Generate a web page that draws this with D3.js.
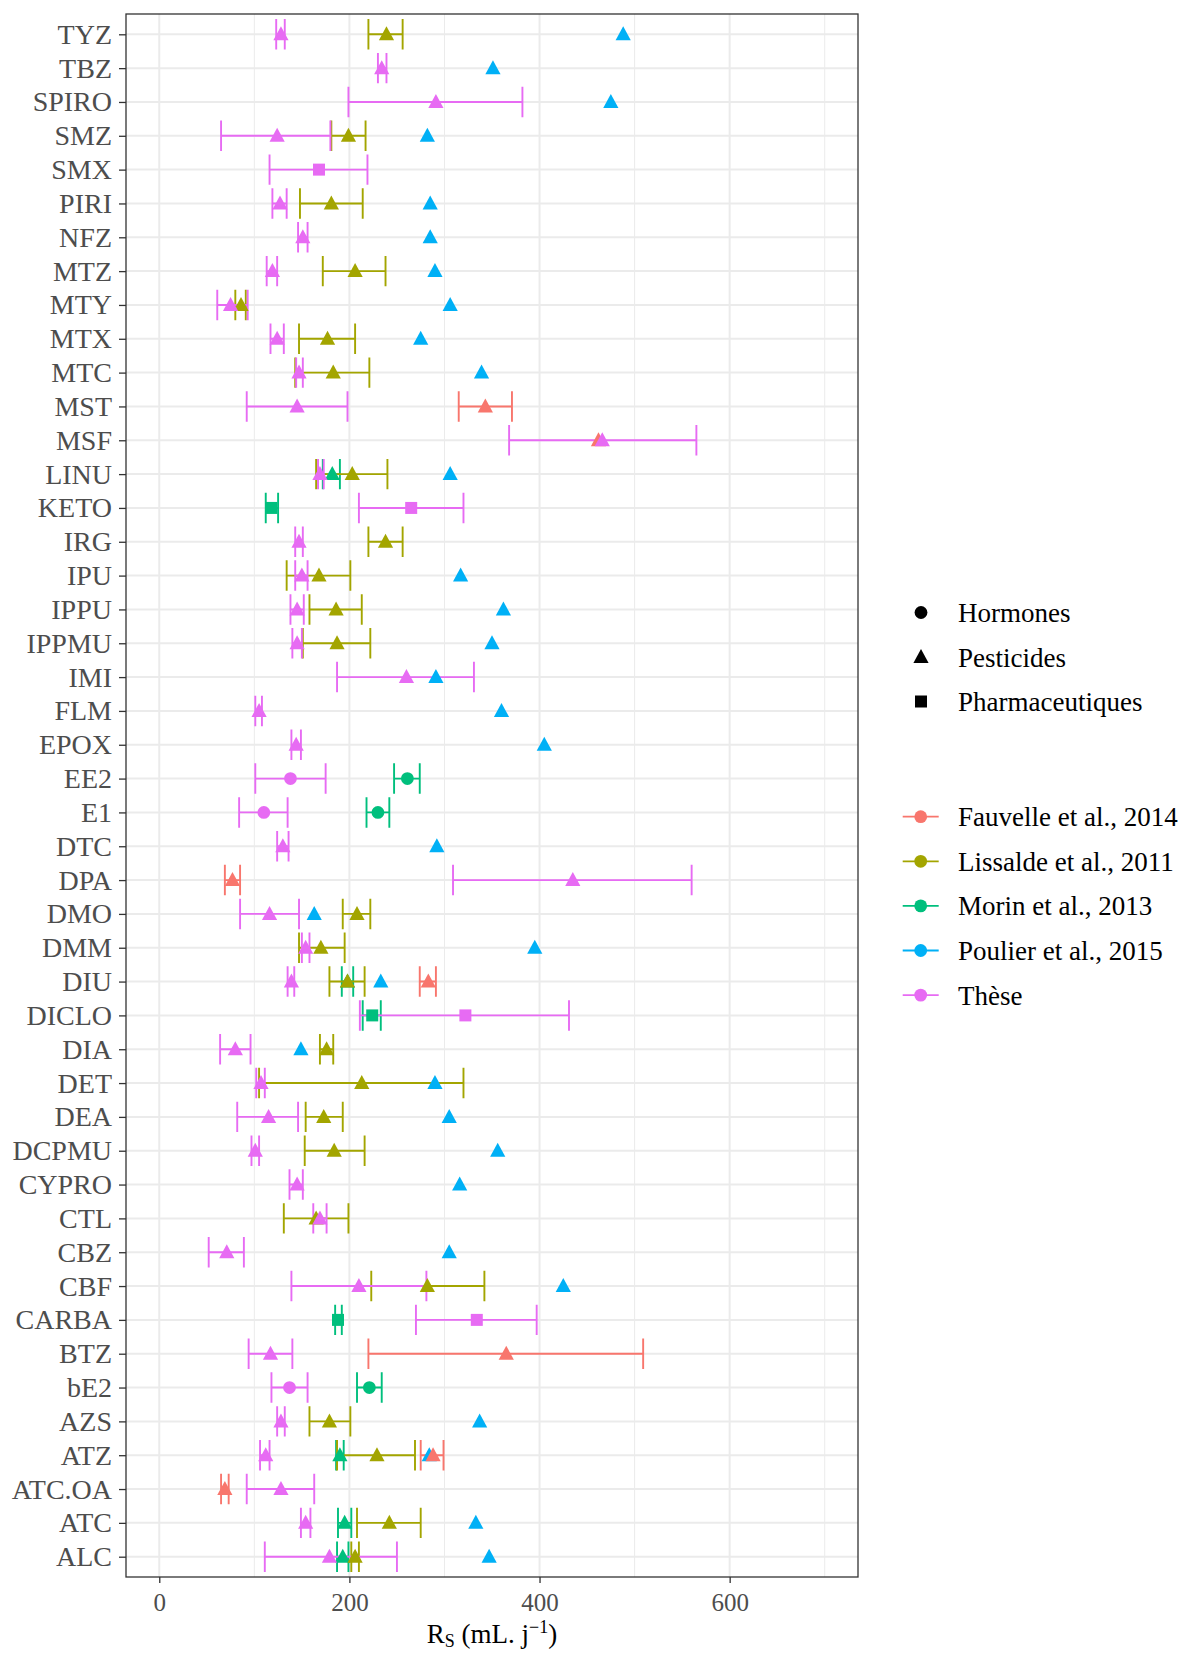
<!DOCTYPE html>
<html>
<head>
<meta charset="utf-8">
<script src="https://cdn.jsdelivr.net/npm/d3@7"></script>
<style>
  body { margin: 0; background: #fff; }
  svg { display: block; font-family: "Liberation Serif", "DejaVu Serif", serif; }
</style>
</head>
<body>
<svg id="chart" width="1180" height="1656"></svg>
<script>
// Compounds, top to bottom
const compounds = ["TYZ","TBZ","SPIRO","SMZ","SMX","PIRI","NFZ","MTZ","MTY","MTX","MTC","MST","MSF",
  "LINU","KETO","IRG","IPU","IPPU","IPPMU","IMI","FLM","EPOX","EE2","E1","DTC","DPA","DMO","DMM",
  "DIU","DICLO","DIA","DET","DEA","DCPMU","CYPRO","CTL","CBZ","CBF","CARBA","BTZ","bE2","AZS",
  "ATZ","ATC.OA","ATC","ALC"];

// Compound families (everything else is a pesticide)
const hormones = ["EE2","E1","bE2"];
const pharmaceuticals = ["SMX","KETO","DICLO","CARBA"];
const familyLabels = ["Hormones","Pesticides","Pharmaceutiques"];

const studies = ["Fauvelle et al., 2014","Lissalde et al., 2011","Morin et al., 2013","Poulier et al., 2015","Thèse"];
const studyColors = ["#F8766D","#A3A500","#00BF7D","#00B0F6","#E76BF3"];

const xTicks = [0, 200, 400, 600];
const xMinor = [100, 300, 500, 700];

// Sampling rates Rs (mL/j): [compound, value, lower, upper]
const fauvelle = [
  ["MST",343,315,371],["MSF",462,null,null],["DPA",77,69,85],["DIU",283,274,291],
  ["BTZ",365,220,509],["ATZ",288,275,299],["ATC.OA",69,65,73]
];
const lissalde = [
  ["TYZ",239,220,256],["SMZ",199,181,217],["PIRI",181,148,214],["MTZ",206,172,238],
  ["MTY",86,80,91],["MTX",177,147,206],["MTC",183,143,221],["LINU",203,165,240],
  ["IRG",238,220,256],["IPU",168,134,201],["IPPU",186,158,213],["IPPMU",187,151,222],
  ["DMO",208,193,222],["DMM",170,147,195],["DIU",198,179,216],["DIA",176,169,183],
  ["DET",213,105,320],["DEA",173,154,193],["DCPMU",184,153,216],["CTL",165,131,199],
  ["CBF",282,223,342],["AZS",179,158,201],["ATZ",229,187,269],["ATC",242,208,275],
  ["ALC",206,202,210]
];
const morin = [
  ["LINU",182,172,190],["KETO",118,112,125],["EE2",261,247,274],["E1",230,218,242],
  ["DIU",198,192,204],["DICLO",224,214,233],["CARBA",188,185,192],["bE2",221,208,234],
  ["ATZ",190,186,194],["ATC",195,188,202],["ALC",193,187,199]
];
const poulier = [
  ["TYZ",488],["TBZ",351],["SPIRO",475],["SMZ",282],["PIRI",285],["NFZ",285],["MTZ",290],
  ["MTY",306],["MTX",275],["MTC",339],["LINU",306],["IPU",317],["IPPU",362],["IPPMU",350],
  ["IMI",291],["FLM",360],["EPOX",405],["DTC",292],["DMO",163],["DMM",395],["DIU",233],
  ["DIA",149],["DET",290],["DEA",305],["DCPMU",356],["CYPRO",316],["CBZ",305],["CBF",425],
  ["AZS",337],["ATZ",284],["ATC",333],["ALC",347]
];
const these = [
  ["TYZ",128,123,132],["TBZ",234,230,239],["SPIRO",291,199,382],["SMZ",124,65,180],
  ["SMX",168,116,219],["PIRI",127,119,134],["NFZ",151,146,156],["MTZ",119,113,124],
  ["MTY",75,61,93],["MTX",124,117,131],["MTC",147,144,151],["MST",145,92,198],
  ["MSF",466,368,565],["LINU",169,167,173],["KETO",265,210,320],["IRG",147,143,151],
  ["IPU",150,143,156],["IPPU",145,138,152],["IPPMU",145,140,150],["IMI",260,187,331],
  ["FLM",105,101,108],["EPOX",144,139,149],["EE2",138,101,175],["E1",110,84,135],
  ["DTC",130,124,136],["DPA",435,309,560],["DMO",116,85,147],["DMM",154,150,158],
  ["DIU",139,135,142],["DICLO",322,211,431],["DIA",80,64,96],["DET",107,102,111],
  ["DEA",115,82,146],["DCPMU",101,97,105],["CYPRO",145,137,151],["CTL",169,162,176],
  ["CBZ",71,52,89],["CBF",210,139,281],["CARBA",334,270,397],["BTZ",117,94,140],
  ["bE2",137,118,156],["AZS",128,124,132],["ATZ",112,106,116],["ATC.OA",128,92,163],
  ["ATC",154,149,159],["ALC",179,111,250]
];

// Layering order of the series (later ones on top)
const drawOrder = [
  { study: 3, rows: poulier },
  { study: 2, rows: morin },
  { study: 1, rows: lissalde },
  { study: 0, rows: fauvelle },
  { study: 4, rows: these }
];

const svg = d3.select("#chart");
const panel = { left: 126, right: 858, top: 14, bottom: 1577 };

const x = d3.scaleLinear().domain([-35, 735]).range([panel.left, panel.right]);
const y = d3.scalePoint().domain(compounds).range([panel.top, panel.bottom]).padding(0.6);
const capHalf = y.step() * 0.45;

const familyOf = c => hormones.includes(c) ? 0 : pharmaceuticals.includes(c) ? 2 : 1;

function symbolPath(family) {
  if (family === 0) return d3.symbol(d3.symbolCircle, Math.PI * 6.4 * 6.4)();
  if (family === 2) return "M-6,-6H6V6H-6Z";
  return "M0,-8L7.6,6L-7.6,6Z";
}

// Panel background and grid
svg.append("rect").attr("x", panel.left).attr("y", panel.top)
  .attr("width", panel.right - panel.left).attr("height", panel.bottom - panel.top)
  .attr("fill", "#fff");

const grid = svg.append("g");
grid.selectAll("line.minor").data(xMinor).join("line")
  .attr("x1", d => x(d)).attr("x2", d => x(d))
  .attr("y1", panel.top).attr("y2", panel.bottom)
  .attr("stroke", "#EBEBEB").attr("stroke-width", 1);
grid.selectAll("line.majx").data(xTicks).join("line")
  .attr("x1", d => x(d)).attr("x2", d => x(d))
  .attr("y1", panel.top).attr("y2", panel.bottom)
  .attr("stroke", "#EBEBEB").attr("stroke-width", 2);
grid.selectAll("line.majy").data(compounds).join("line")
  .attr("x1", panel.left).attr("x2", panel.right)
  .attr("y1", d => y(d)).attr("y2", d => y(d))
  .attr("stroke", "#EBEBEB").attr("stroke-width", 2);

// Error bars
const bars = svg.append("g").attr("fill", "none").attr("stroke-width", 1.9);
drawOrder.forEach(s => {
  const rows = s.rows.filter(r => r[2] != null && r[3] != null);
  const g = bars.append("g").attr("stroke", studyColors[s.study]);
  g.selectAll("path").data(rows).join("path")
    .attr("d", r => {
      const cy = y(r[0]), x0 = x(r[2]), x1 = x(r[3]);
      return `M${x0},${cy - capHalf}V${cy + capHalf}M${x0},${cy}H${x1}M${x1},${cy - capHalf}V${cy + capHalf}`;
    });
});

// Points
const pts = svg.append("g");
drawOrder.forEach(s => {
  pts.append("g").attr("fill", studyColors[s.study])
    .selectAll("path").data(s.rows).join("path")
    .attr("transform", r => `translate(${x(r[1])},${y(r[0])})`)
    .attr("d", r => symbolPath(familyOf(r[0])));
});

// Panel border
svg.append("rect").attr("x", panel.left).attr("y", panel.top)
  .attr("width", panel.right - panel.left).attr("height", panel.bottom - panel.top)
  .attr("fill", "none").attr("stroke", "#333333").attr("stroke-width", 1.3);

// Axes
const xAxis = svg.append("g").attr("transform", `translate(0,${panel.bottom})`)
  .call(d3.axisBottom(x).tickValues(xTicks).tickSize(6).tickPadding(10));
xAxis.select(".domain").remove();
xAxis.selectAll(".tick line").attr("stroke", "#333333").attr("stroke-width", 1.3);
xAxis.selectAll(".tick text").attr("fill", "#4D4D4D")
  .style("font-family", '"Liberation Serif", serif').style("font-size", "25px");

const yAxis = svg.append("g").attr("transform", `translate(${panel.left},0)`)
  .call(d3.axisLeft(y).tickSize(7).tickPadding(7));
yAxis.select(".domain").remove();
yAxis.selectAll(".tick line").attr("stroke", "#333333").attr("stroke-width", 1.3);
yAxis.selectAll(".tick text").attr("fill", "#4D4D4D")
  .style("font-family", '"Liberation Serif", serif').style("font-size", "28px");

// Axis title: R_S (mL. j^-1)
const title = svg.append("text")
  .attr("x", (panel.left + panel.right) / 2).attr("y", 1643)
  .attr("text-anchor", "middle").attr("fill", "#000")
  .style("font-size", "27px");
title.append("tspan").text("R");
title.append("tspan").attr("dy", 4).style("font-size", "18px").text("S");
title.append("tspan").attr("dy", -4).text(" (mL. j");
title.append("tspan").attr("dy", -10).style("font-size", "18px").text("−1");
title.append("tspan").attr("dy", 10).text(")");

// Legend: compound family shapes
const legShape = svg.append("g");
familyLabels.forEach((lab, i) => {
  const cy = 612.5 + i * 44.5;
  legShape.append("path").attr("transform", `translate(921,${cy})`)
    .attr("d", symbolPath(i)).attr("fill", "#000");
  legShape.append("text").attr("x", 958).attr("y", cy + 9.5)
    .attr("fill", "#000").style("font-size", "27px").text(lab);
});

// Legend: studies
const legStudy = svg.append("g");
studies.forEach((lab, i) => {
  const cy = 816.7 + i * 44.6;
  legStudy.append("line").attr("x1", 902.7).attr("x2", 938.7)
    .attr("y1", cy).attr("y2", cy)
    .attr("stroke", studyColors[i]).attr("stroke-width", 1.8);
  legStudy.append("circle").attr("cx", 920.7).attr("cy", cy).attr("r", 6.4)
    .attr("fill", studyColors[i]);
  legStudy.append("text").attr("x", 958).attr("y", cy + 9.5)
    .attr("fill", "#000").style("font-size", "27px").text(lab);
});
</script>
</body>
</html>
